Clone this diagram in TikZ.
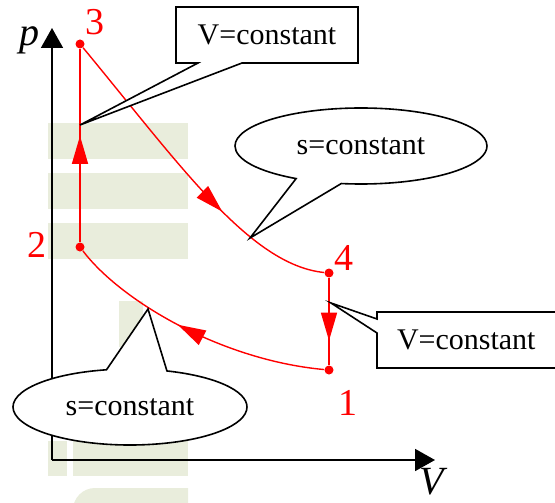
\documentclass[tikz,border=0pt]{standalone}
\usepackage{fontspec}
\setmainfont{Liberation Serif}
\usepackage{xcolor}
\definecolor{cyclered}{RGB}{255,0,0}
\definecolor{markgreen}{RGB}{233,237,220}
\usetikzlibrary{arrows.meta,shapes.callouts,decorations.markings}

\begin{document}
\begin{tikzpicture}[x=0.5pt,y=-0.5pt,
state/.style={circle,fill=cyclered,inner sep=0pt,minimum size=4.5pt},
statenum/.style={text=cyclered,font=\fontsize{19}{19}\selectfont},
axislabel/.style={font=\fontsize{20}{20}\selectfont\itshape},
axis/.style={-{Triangle[length=10pt,width=11pt]},line width=0.9pt},
process/.style={draw=cyclered,line width=0.7pt,postaction={decorate},
  decoration={markings,mark=at position #1 with {\arrow[cyclered]{Triangle[length=14pt,width=8pt]}}}},
vnote/.style={rectangle callout,draw,fill=white,line width=0.8pt,minimum width=91pt,minimum height=28pt,callout pointer width=22pt,font=\fontsize{15}{15}\selectfont},
snote/.style={ellipse callout,draw,fill=white,line width=0.8pt,inner sep=0pt,minimum height=38pt,font=\fontsize{15}{15}\selectfont},
wmark/.style={fill=markgreen}]
\useasboundingbox (0,0) rectangle (555,502);
\clip (0,0) rectangle (555,502);
% faint logo in the background
\fill[wmark] (48,123) rectangle (188,159);
\fill[wmark] (48,173) rectangle (188,209);
\fill[wmark] (48,223) rectangle (188,259);
\fill[wmark] (119,301) rectangle (143,347);
\fill[wmark] (48,441) rectangle (67,476);
\fill[wmark] (73,441) rectangle (188,476);
\fill[wmark] (73,520) [rounded corners=11pt] -- (73,488) [sharp corners] -- (188,488) -- (188,520) -- cycle;
% axes
\coordinate (O) at (52,460);
\coordinate (ptop) at (52,28);
\coordinate (vend) at (435,460);
\draw[axis] (O) -- (ptop);
\draw[axis] (O) -- (vend);
\node[axislabel] (plab) at (29,40) {p};
\node[axislabel] (vlab) at (432,482) {V};
% states
\node[state] (s1) at (329,370) {};
\node[state] (s2) at (80,247) {};
\node[state] (s3) at (80,44) {};
\node[state] (s4) at (329,273) {};
\node[statenum] (n1) at (348,403) {1};
\node[statenum] (n2) at (37,245) {2};
\node[statenum] (n3) at (95,22) {3};
\node[statenum] (n4) at (344,258) {4};
% processes
\draw[process=0.55] (s2) -- (s3);
\draw[process=0.64] (s3) .. controls (180,165) and (250,265) .. (s4);
\draw[process=0.72] (s4) -- (s1);
\draw[process=0.56] (s1) .. controls (220,360) and (120,300) .. (s2);
% notes
\coordinate (tip23) at (80,125);
\coordinate (tip34) at (250,238);
\coordinate (tip41) at (331,303);
\coordinate (tip12) at (148,309);
\node[vnote,callout absolute pointer={(tip23)}] (v23) at (267,35) {V=constant};
\node[snote,minimum width=126pt,callout pointer arc=22,callout absolute pointer={(tip34)}] (s34) at (361,146) {s=constant};
\node[vnote,align=left,text width=110pt,inner xsep=10pt,callout pointer width=7pt,callout absolute pointer={(tip41)}] (v41) at (507,340) {V=constant};
\node[snote,minimum width=117pt,callout pointer arc=30,callout absolute pointer={(tip12)}] (s12) at (130,407) {s=constant};
\end{tikzpicture}
\end{document}
